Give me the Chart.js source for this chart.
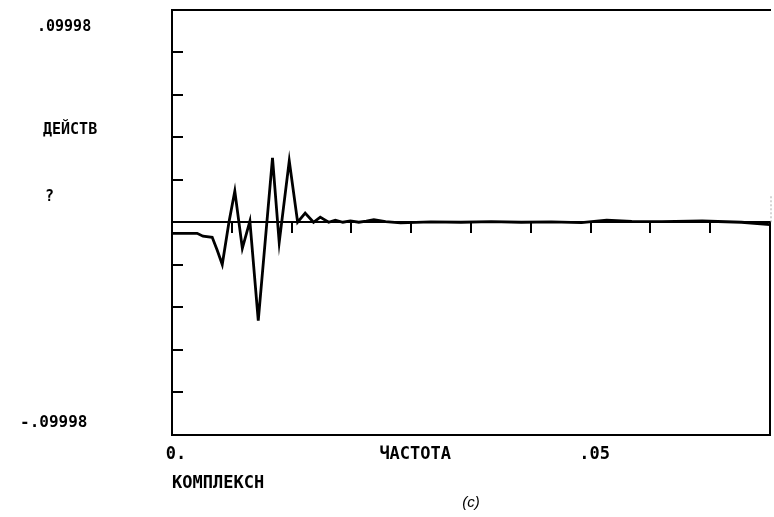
<!DOCTYPE html>
<html>
<head>
<meta charset="utf-8">
<script src="https://cdn.jsdelivr.net/npm/chart.js@4"></script>
<style>
  html, body { margin: 0; padding: 0; background: #fff; }
</style>
</head>
<body>
<canvas id="chart" width="774" height="517"></canvas>
<script>
// frequency axis (x) and real part of the response (y)
const freq = [0, 0.0030, 0.0037, 0.0048, 0.0054, 0.0060, 0.0068, 0.0075, 0.0084, 0.0093,
  0.0103, 0.0120, 0.0128, 0.0140, 0.0150, 0.0159, 0.0169, 0.0177, 0.0187, 0.0195,
  0.0204, 0.0213, 0.0223, 0.0232, 0.0241, 0.0255, 0.0273, 0.0309, 0.0345, 0.0381,
  0.0417, 0.0453, 0.0489, 0.0519, 0.0549, 0.0585, 0.0633, 0.0680, 0.0714];
const real = [-0.0052, -0.0052, -0.0066, -0.0071, -0.0132, -0.0199, 0, 0.0147, -0.0123, 0.0005,
  -0.0463, 0.0303, -0.0095, 0.0289, 0, 0.0043, 0, 0.0024, 0, 0.0010,
  0, 0.0006, 0, 0.0005, 0.0012, 0.0003, -0.0003, 0.0002, 0, 0.0003,
  0, 0.0002, -0.0002, 0.0010, 0.0004, 0.0003, 0.0006, 0, -0.0011];

const xTickValues = [0, 0.00714, 0.01428, 0.02142, 0.02856, 0.0357, 0.04284, 0.04998, 0.05712, 0.06426, 0.0714];
const xTickLabels = ['0.', '', '', '', 'ЧАСТОТА', '', '', '.05', '', '', ''];
const yTickValues = [-0.08, -0.06, -0.04, -0.02, 0, 0.02, 0.04, 0.06, 0.08];
const yMin = -0.09998;
const yMax = 0.09998;
const sideLabels = ['.09998', 'ДЕЙСТВ', '?', '-.09998'];

const mono = '"DejaVu Sans Mono"';

// top/right frame lines and the free-standing labels on the left
const framePlugin = {
  id: 'frame',
  afterDraw(chart) {
    const { ctx, chartArea: a, scales } = chart;
    const zeroY = scales.y.getPixelForValue(0);
    ctx.save();
    ctx.strokeStyle = '#000';
    ctx.lineWidth = 2;
    ctx.beginPath();
    ctx.moveTo(a.left - 1, a.top);
    ctx.lineTo(a.right + 1, a.top);
    ctx.moveTo(a.right, zeroY);
    ctx.lineTo(a.right, a.bottom + 1);
    ctx.stroke();
    ctx.strokeStyle = '#aaa';
    ctx.lineWidth = 1;
    ctx.setLineDash([2, 2]);
    ctx.beginPath();
    ctx.moveTo(a.right + 1, zeroY - 26);
    ctx.lineTo(a.right + 1, zeroY);
    ctx.stroke();
    ctx.setLineDash([]);

    ctx.fillStyle = '#000';
    ctx.textAlign = 'left';
    ctx.textBaseline = 'middle';
    ctx.font = 'bold 15px ' + mono;
    ctx.fillText(sideLabels[0], 37, 27);
    ctx.fillText(sideLabels[1], 43, 130);
    ctx.fillText(sideLabels[2], 45, 197);
    ctx.font = 'bold 16px ' + mono;
    ctx.fillText(sideLabels[3], 20, 423);
    ctx.restore();
  }
};

new Chart(document.getElementById('chart'), {
  type: 'line',
  data: {
    datasets: [{
      data: freq.map((f, i) => ({ x: f, y: real[i] })),
      borderColor: '#000',
      borderWidth: 2.8,
      pointRadius: 0,
      tension: 0,
      fill: false,
      xAxisID: 'x',
      yAxisID: 'y'
    }]
  },
  options: {
    responsive: false,
    animation: false,
    devicePixelRatio: 1,
    layout: { padding: { left: 172, right: 4, top: 10, bottom: 6 } },
    scales: {
      x: {
        type: 'linear',
        position: 'bottom',
        min: 0,
        max: 0.0714,
        afterBuildTicks: s => { s.ticks = xTickValues.map(v => ({ value: v })); },
        afterFit: s => { s.paddingRight = 0; },
        ticks: {
          autoSkip: false,
          maxRotation: 0,
          padding: 12,
          labelOffset: 4,
          color: '#000',
          font: { family: mono, size: 17, weight: 'bold', lineHeight: 1 },
          callback: (v, i) => xTickLabels[i]
        },
        grid: { display: true, drawOnChartArea: false, drawTicks: false },
        border: { display: true, color: '#000', width: 2 },
        title: {
          display: true,
          text: 'КОМПЛЕКСН',
          align: 'start',
          color: '#000',
          font: { family: mono, size: 17, weight: 'bold', lineHeight: 1 },
          padding: { top: 0, bottom: 0 }
        }
      },
      x0: {
        type: 'linear',
        position: { y: 0 },
        min: 0,
        max: 0.0714,
        afterBuildTicks: s => { s.ticks = xTickValues.map(v => ({ value: v })); },
        ticks: { display: false },
        grid: { drawOnChartArea: false, drawTicks: true, tickLength: 10, color: '#000', lineWidth: 2 },
        border: { display: true, color: '#000', width: 2 }
      },
      y: {
        type: 'linear',
        position: { x: 0 },
        min: yMin,
        max: yMax,
        afterBuildTicks: s => { s.ticks = yTickValues.map(v => ({ value: v })); },
        ticks: { display: false },
        grid: { drawOnChartArea: false, drawTicks: true, tickLength: -12, color: '#000', lineWidth: 2 },
        border: { display: true, color: '#000', width: 2 }
      }
    },
    plugins: {
      legend: { display: false },
      tooltip: { enabled: false },
      title: {
        display: true,
        text: '(c)',
        position: 'bottom',
        fullSize: false,
        color: '#000',
        font: { family: 'Liberation Sans', style: 'italic', weight: 'normal', size: 15, lineHeight: 1.1 },
        padding: { top: 2, bottom: 0 }
      }
    }
  },
  plugins: [framePlugin]
});
</script>
</body>
</html>
